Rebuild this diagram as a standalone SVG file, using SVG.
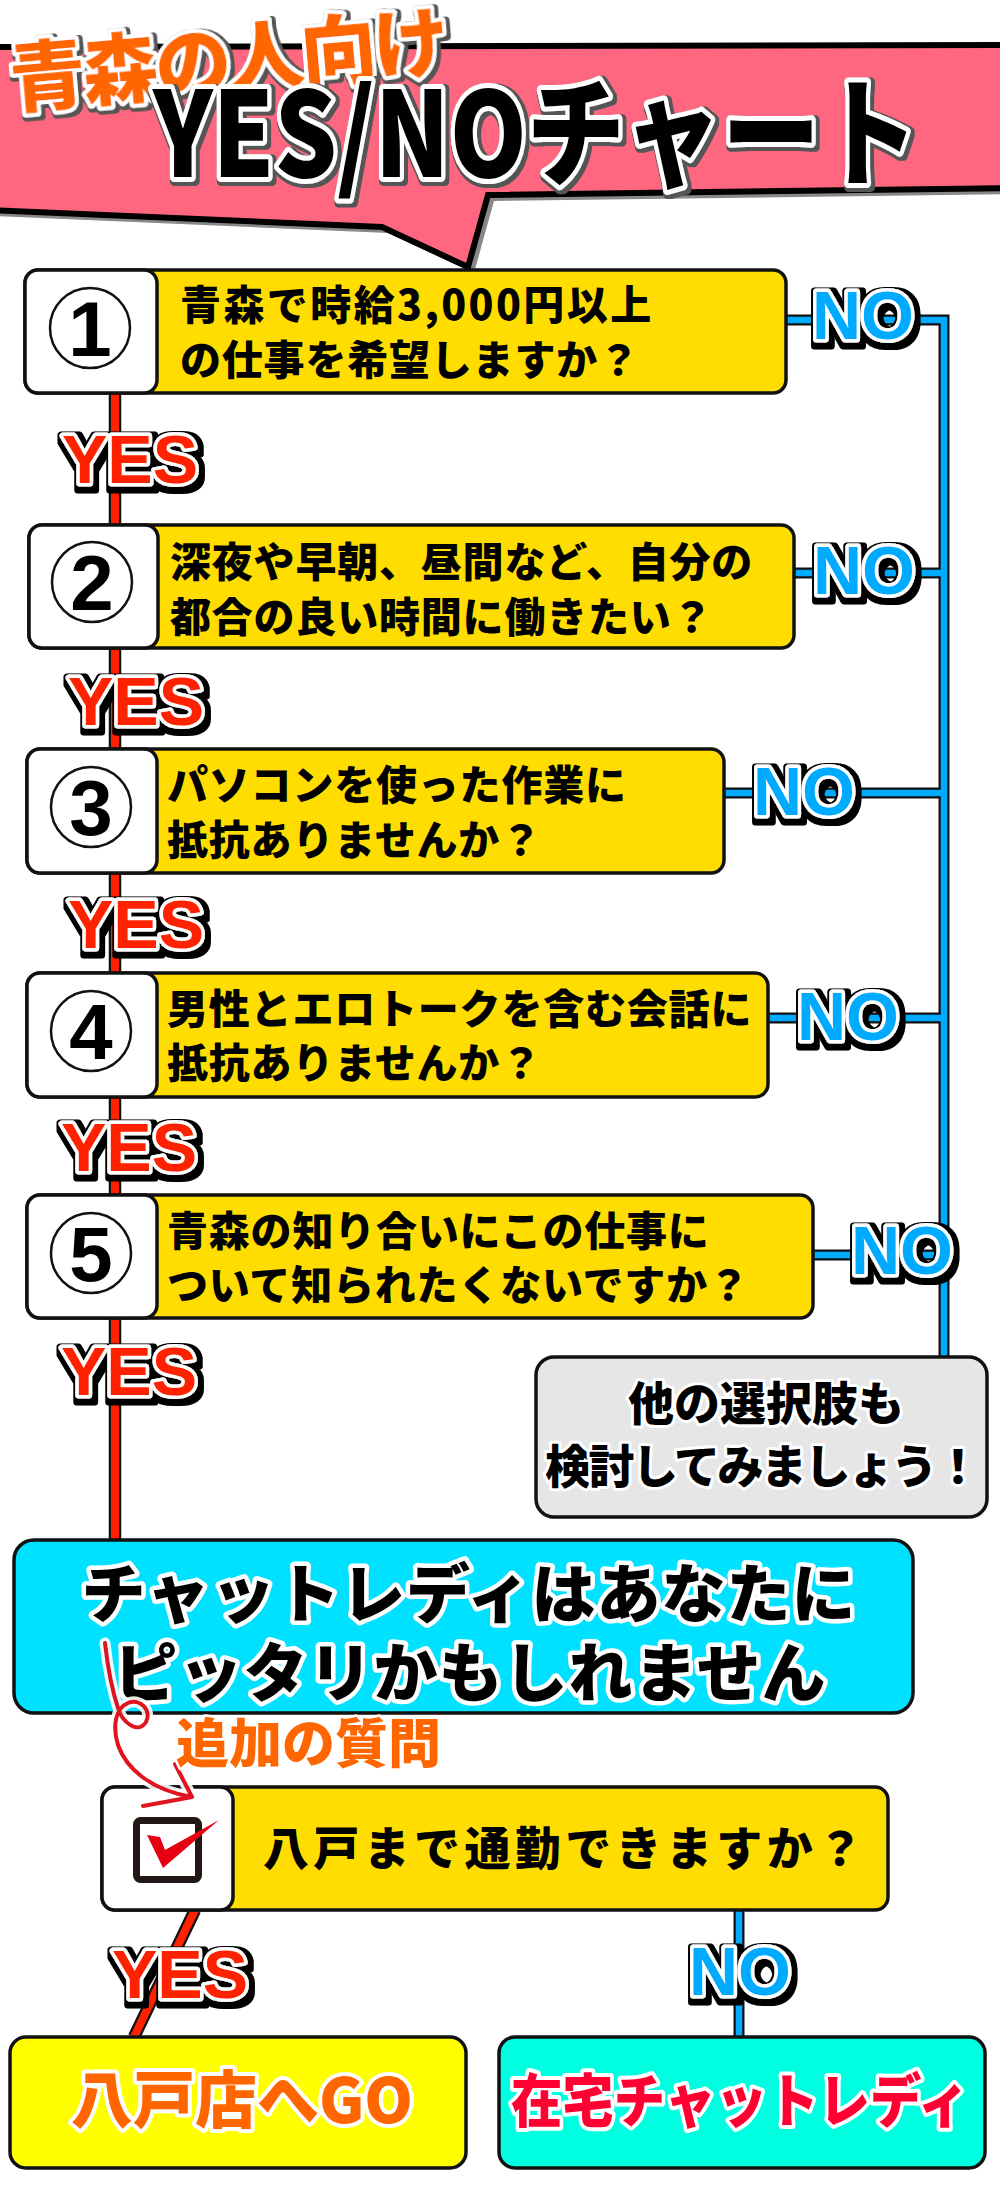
<svg xmlns="http://www.w3.org/2000/svg" width="1000" height="2200" viewBox="0 0 1000 2200">
<defs>
<style>
.jp{font-family:"Noto Sans CJK JP","Noto Sans CJK SC",sans-serif;font-weight:900}
.q{font-size:41px;letter-spacing:0.8px;fill:#000}
.q6{font-size:46px;fill:#000}
.box{fill:#FFDD00;stroke:#111;stroke-width:3.5}
.cell{fill:#fff;stroke:#111;stroke-width:3.5}
.num{fill:#fff;stroke:#111;stroke-width:2.5}
.digit{font-family:"Liberation Sans",Arial,sans-serif;font-weight:bold;font-size:78px;text-anchor:middle;fill:#000}
.lbl{font-family:"Liberation Sans",Arial,sans-serif;font-weight:bold;font-size:68px;stroke:#fff;stroke-width:7;stroke-linejoin:round;paint-order:stroke}
.yes{fill:#FF2200}
.no{fill:#00AAFF}
.under{fill:none;stroke:#111}
.red{fill:none;stroke:#FF2200;stroke-width:8}
.blue{fill:none;stroke:#00AAFF;stroke-width:6.5}
.wo{stroke:#fff;stroke-linejoin:round;paint-order:stroke}
</style>
<filter id="sh" x="-15%" y="-25%" width="135%" height="160%">
<feMorphology in="SourceAlpha" operator="dilate" radius="3.5" result="d"/>
<feOffset in="d" dx="1.5" dy="2.5" result="o"/>
<feFlood flood-color="#000"/>
<feComposite in2="o" operator="in" result="s"/>
<feMerge><feMergeNode in="s"/><feMergeNode in="SourceGraphic"/></feMerge>
</filter>
<filter id="gsh" x="-10%" y="-20%" width="120%" height="150%">
<feMorphology in="SourceAlpha" operator="dilate" radius="1.8" result="d"/>
<feOffset in="d" dx="2" dy="2" result="o"/>
<feFlood flood-color="#555"/>
<feComposite in2="o" operator="in" result="s"/>
<feMerge><feMergeNode in="s"/><feMergeNode in="SourceGraphic"/></feMerge>
</filter>
</defs>
<rect width="1000" height="2200" fill="#fff"/>

<g id="header">
<polygon points="-10,47 1010,45 1010,188 488,195 468,267 382,227 -10,210" fill="#888" transform="translate(6,6)"/>
<polygon points="-10,47 1010,45 1010,188 488,195 468,267 382,227 -10,210" fill="#FF6680" stroke="#000" stroke-width="6" stroke-linejoin="miter"/>
<text class="jp wo" x="228" y="88" text-anchor="middle" font-size="76" letter-spacing="-3" fill="#FF6600" stroke-width="8" filter="url(#gsh)" transform="rotate(-5 228 60)">青森の人向け</text>
<text class="jp wo" x="153" y="177" font-size="118" textLength="765" lengthAdjust="spacingAndGlyphs" fill="#000" stroke-width="10" filter="url(#gsh)">YES/NOチャート</text>
</g>

<g id="connectors">
<path class="under" stroke-width="12.5" d="M115,393 V1540 M195,1910 L134,2037"/>
<path class="under" stroke-width="11" d="M786,320 H944 V1357 M794,573 H944 M724,793 H944 M768,1018 H944 M813,1255 H944 M739,1910 V2037"/>
<path class="red" d="M115,393 V1540 M195,1910 L134,2037"/>
<path class="blue" d="M786,320 H944 V1357 M794,573 H944 M724,793 H944 M768,1018 H944 M813,1255 H944 M739,1910 V2037"/>
</g>

<g id="q1">
<rect class="box" x="25" y="270" width="761" height="123" rx="13"/>
<rect class="cell" x="25" y="270" width="132" height="123" rx="13"/>
<circle class="num" cx="90" cy="328" r="40"/>
<text class="digit" x="90" y="356">1</text>
<text class="jp q" x="180" y="320" textLength="472">青森で時給3,000円以上</text>
<text class="jp q" x="180" y="375">の仕事を希望しますか？</text>
</g>

<g id="q2">
<rect class="box" x="29" y="525" width="765" height="123" rx="13"/>
<rect class="cell" x="29" y="525" width="129" height="123" rx="13"/>
<circle class="num" cx="92" cy="582" r="40"/>
<text class="digit" x="92" y="610">2</text>
<text class="jp q" x="170" y="577">深夜や早朝、昼間など、自分の</text>
<text class="jp q" x="170" y="632">都合の良い時間に働きたい？</text>
</g>

<g id="q3">
<rect class="box" x="27" y="749" width="697" height="124" rx="13"/>
<rect class="cell" x="27" y="749" width="130" height="124" rx="13"/>
<circle class="num" cx="91" cy="807" r="40"/>
<text class="digit" x="91" y="835">3</text>
<text class="jp q" x="167" y="800">パソコンを使った作業に</text>
<text class="jp q" x="167" y="855">抵抗ありませんか？</text>
</g>

<g id="q4">
<rect class="box" x="27" y="973" width="741" height="124" rx="13"/>
<rect class="cell" x="27" y="973" width="130" height="124" rx="13"/>
<circle class="num" cx="91" cy="1031" r="40"/>
<text class="digit" x="91" y="1059">4</text>
<text class="jp q" x="167" y="1024">男性とエロトークを含む会話に</text>
<text class="jp q" x="167" y="1078">抵抗ありませんか？</text>
</g>

<g id="q5">
<rect class="box" x="27" y="1195" width="786" height="123" rx="13"/>
<rect class="cell" x="27" y="1195" width="130" height="123" rx="13"/>
<circle class="num" cx="91" cy="1253" r="40"/>
<text class="digit" x="91" y="1281">5</text>
<text class="jp q" x="167" y="1246">青森の知り合いにこの仕事に</text>
<text class="jp q" x="167" y="1300">ついて知られたくないですか？</text>
</g>

<g id="other">
<rect x="536" y="1357" width="451" height="160" rx="18" fill="#E6E6E6" stroke="#111" stroke-width="3.5"/>
<text class="jp wo" x="766" y="1420" text-anchor="middle" font-size="46" fill="#000" stroke-width="6">他の選択肢も</text>
<text class="jp wo" x="763" y="1483" text-anchor="middle" font-size="46" textLength="436" fill="#000" stroke-width="6">検討してみましょう！</text>
</g>

<g id="result-main">
<rect x="14" y="1540" width="899" height="173" rx="20" fill="#00E1FF" stroke="#111" stroke-width="3.5"/>
<text class="jp wo" x="469" y="1617" text-anchor="middle" font-size="64" letter-spacing="1" fill="#000" stroke-width="9">チャットレディはあなたに</text>
<text class="jp wo" x="470" y="1696" text-anchor="middle" font-size="64" letter-spacing="1" fill="#000" stroke-width="9">ピッタリかもしれません</text>
</g>

<g id="q6">
<rect class="box" x="102" y="1787" width="786" height="123" rx="13"/>
<rect class="cell" x="102" y="1787" width="131" height="123" rx="13"/>
<rect x="136.5" y="1820.5" width="62" height="59" rx="4" fill="#fff" stroke="#231815" stroke-width="7"/>
<polygon points="147,1835 160,1837 165,1850 219,1820 163,1868" fill="#E60012"/>
<text class="jp q6" x="263" y="1865" textLength="600">八戸まで通勤できますか？</text>
</g>

<g id="result-yes">
<rect x="10" y="2037" width="456" height="131" rx="16" fill="#FFFF00" stroke="#111" stroke-width="3.5"/>
<text class="jp wo" x="242" y="2123" text-anchor="middle" font-size="62" fill="#FF6600" stroke-width="8">八戸店へGO</text>
</g>

<g id="result-no">
<rect x="499" y="2037" width="486" height="131" rx="16" fill="#00FFE1" stroke="#111" stroke-width="3.5"/>
<text class="jp wo" x="740" y="2122" text-anchor="middle" font-size="58" textLength="458" lengthAdjust="spacingAndGlyphs" fill="#FF0033" stroke-width="8">在宅チャットレディ</text>
</g>

<g id="labels" filter="url(#sh)">
<text class="lbl yes" x="62" y="483">YES</text>
<text class="lbl yes" x="68" y="725">YES</text>
<text class="lbl yes" x="68" y="948">YES</text>
<text class="lbl yes" x="61" y="1171">YES</text>
<text class="lbl yes" x="61" y="1395">YES</text>
<text class="lbl yes" x="112" y="1998">YES</text>
<text class="lbl no" x="812" y="339">NO</text>
<text class="lbl no" x="813" y="594">NO</text>
<text class="lbl no" x="753" y="815">NO</text>
<text class="lbl no" x="797" y="1040">NO</text>
<text class="lbl no" x="851" y="1274">NO</text>
<text class="lbl no" x="689" y="1995">NO</text>
</g>

<g id="extra">
<path d="M105,1643 C108,1670 112,1690 118,1708 C122,1722 138,1735 146,1722 C152,1710 140,1698 128,1703 C116,1708 112,1725 118,1745 C126,1768 150,1790 192,1797 M175,1764 L192,1797 L143,1806" fill="none" stroke="#fff" stroke-width="11" stroke-linecap="round" stroke-linejoin="round" opacity="0.9"/>
<path d="M105,1643 C108,1670 112,1690 118,1708 C122,1722 138,1735 146,1722 C152,1710 140,1698 128,1703 C116,1708 112,1725 118,1745 C126,1768 150,1790 192,1797 M175,1764 L192,1797 L143,1806" fill="none" stroke="#E0141E" stroke-width="4" stroke-linecap="round" stroke-linejoin="round"/>
<text class="jp wo" x="176" y="1763" font-size="53" font-weight="700" fill="#FF6600" stroke-width="5">追加の質問</text>
</g>
</svg>
